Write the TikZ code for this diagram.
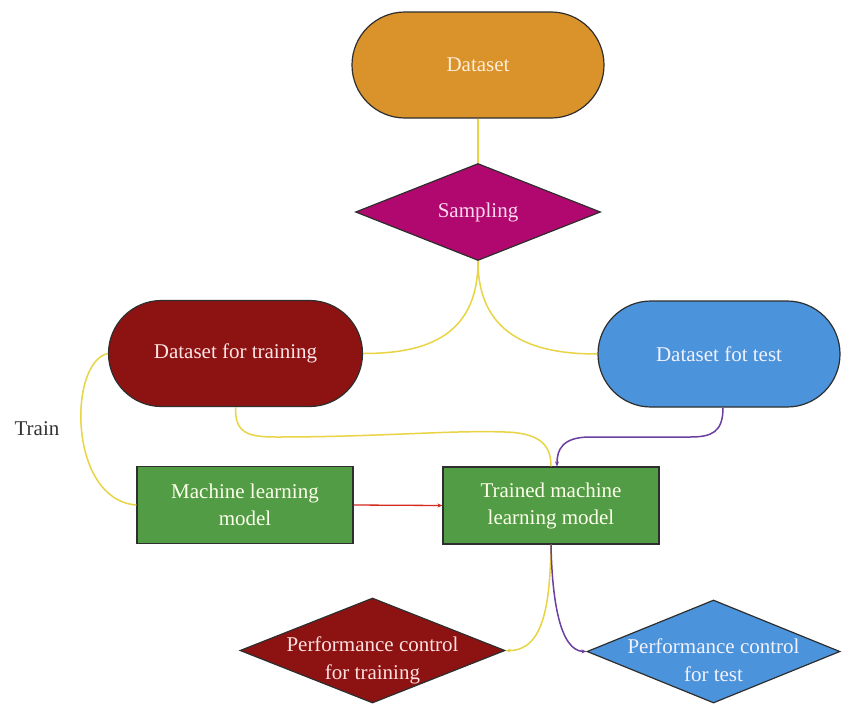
\documentclass[tikz,border=0pt]{standalone}
\usepackage{fontspec}
\setmainfont{Liberation Serif}
\usetikzlibrary{shapes.geometric,arrows.meta}
\definecolor{cOrange}{HTML}{D9932A}
\definecolor{cMagenta}{HTML}{B1086F}
\definecolor{cDarkRed}{HTML}{8C1312}
\definecolor{cBlue}{HTML}{4B93DB}
\definecolor{cGreen}{HTML}{519C45}
\definecolor{cYellow}{HTML}{E8D444}
\definecolor{cPurple}{HTML}{6A3FA0}
\definecolor{cRed}{HTML}{D42A20}
\definecolor{cBorder}{HTML}{2E2E2E}
\tikzset{
  lbl/.style={font=\fontsize{21}{28}\selectfont, align=center, inner sep=0pt},
  stadium/.style={draw=cBorder, line width=1.2pt, rectangle, rounded corners=53pt,
    minimum height=106pt, inner sep=0pt, font=\fontsize{21}{28}\selectfont},
  box/.style={draw=cBorder, line width=1.2pt, rectangle, fill=cGreen, text=green!5!yellow!8!white,
    minimum width=216pt, minimum height=77pt, inner sep=0pt, align=center,
    font=\fontsize{21}{27}\selectfont},
  dia/.style={draw=cBorder, line width=1.2pt, diamond, inner sep=0pt},
  yl/.style={draw=cYellow, line width=1.5pt},
  pl/.style={draw=cPurple, line width=1.5pt},
  tipS/.style={-{Stealth[length=5pt,width=4pt]}}
}
\begin{document}
\begin{tikzpicture}[x=1pt,y=-1pt]
\useasboundingbox[fill=white] (0,0) rectangle (842,704);

% nodes
\node[stadium, fill=cOrange, text=orange!15!white, minimum width=252pt] (ds) at (478,65) {Dataset};
\node[dia, fill=cMagenta, minimum width=245pt, minimum height=97pt] (samp) at (478,212) {};
\node[lbl, text=magenta!15!white] (samptxt) at (478,212) {Sampling};
\node[stadium, fill=cDarkRed, text=red!10!white, minimum width=254pt] (dtrain) at (235.5,353.5) {Dataset for training};
\node[stadium, fill=cBlue, text=blue!5!white, minimum width=242pt] (dtest) at (719,354) {Dataset fot test};
\node[box] (mlm) at (245,505) {Machine learning\\model};
\node[box] (tr) at (551,505.5) {Trained machine\\learning model};
\node[dia, fill=cDarkRed, minimum width=265pt, minimum height=105pt] (ptr) at (372.5,650.5) {};
\node[lbl, text=red!12!white] (ptrtxt) at (372.5,660) {Performance control\\for training};
\node[dia, fill=cBlue, minimum width=253pt, minimum height=103pt] (pte) at (713.5,651.5) {};
\node[lbl, text=blue!5!white] (ptetxt) at (713.5,660) {Performance control\\for test};
\node[lbl, text=black!80] (trainlbl) at (37,429) {Train};

% connectors
\draw[yl] (ds.south) -- (samp.north);
\draw[yl] (samp.south) .. controls (478,340) and (420,353.5) .. (dtrain.east);
\draw[yl] (samp.south) .. controls (478,340) and (540,354) .. (dtest.west);
\draw[yl] (dtrain.south) .. controls (235,432) and (246,437) .. (276,437)
  .. controls (380,437) and (450,430) .. (505,432)
  .. controls (540,433) and (551,445) .. (tr.north);
\draw[pl, tipS] ([xshift=4pt]dtest.south) .. controls (723,432) and (712,437) .. (690,437)
  -- (590,437) .. controls (562,437) and (557,450) .. ([xshift=6pt]tr.north);
\draw[yl] (dtrain.west) .. controls (68,362) and (68,500) .. (mlm.west);
\draw[cRed, line width=1.3pt, tipS] (mlm.east) -- (tr.west);
\draw[yl, tipS] (tr.south) .. controls (550,600) and (545,651) .. (ptr.east);
\draw[pl, tipS] (tr.south) .. controls (552,600) and (560,651) .. (pte.west);
\end{tikzpicture}
\end{document}
